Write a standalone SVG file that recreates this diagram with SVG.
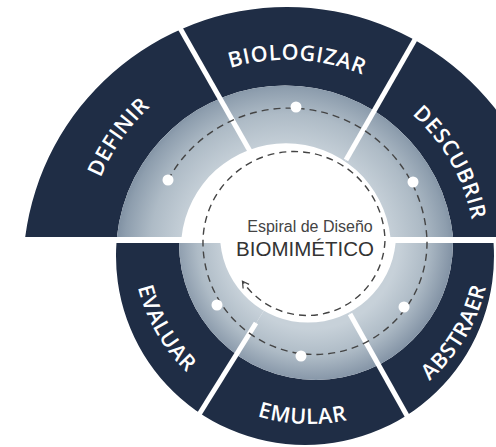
<svg xmlns="http://www.w3.org/2000/svg" width="496" height="447" viewBox="0 0 496 447">
<defs>
<style>
.dark{fill:#1f2d45}
.lbl{font-family:"Open Sans","Liberation Sans",sans-serif;font-weight:600;font-size:21.5px;fill:#ffffff;letter-spacing:0.7px}
.div{stroke:#ffffff;stroke-width:5}
.dash{fill:none;stroke:#444444;stroke-width:1.4;stroke-dasharray:7 5}
.dot{fill:#ffffff}
.ctr{font-family:"Liberation Sans","Open Sans",sans-serif;text-anchor:middle}
</style>
<radialGradient id="gU" gradientUnits="userSpaceOnUse" cx="286" cy="250" r="170">
<stop offset="0.6" stop-color="#c7d1d9"/>
<stop offset="0.8" stop-color="#aebbc6"/>
<stop offset="0.95" stop-color="#8e9eae"/>
<stop offset="1" stop-color="#7f90a2"/>
</radialGradient>
<radialGradient id="gL" gradientUnits="userSpaceOnUse" cx="312" cy="242" r="140">
<stop offset="0.62" stop-color="#c7d1d9"/>
<stop offset="0.82" stop-color="#aebbc6"/>
<stop offset="1" stop-color="#8494a6"/>
</radialGradient>
<path id="ud" d="M 25.2 237 A 264 264 0 0 1 548.8 237 L 453.1 237 A 169 169 0 0 0 116.9 237 Z"/>
<path id="ul" d="M 116.9 237 A 169 169 0 0 1 453.1 237 L 390.4 237 A 105 105 0 0 0 181.6 237 Z"/>
<path id="ld" d="M 116.45 243 A 189 189 0 1 0 493.55 243 L 453 243 A 137 137 0 1 1 179 243 Z"/>
<path id="ll" d="M 179 243 A 137 137 0 1 0 453 243 L 395.6 243 A 88 88 0 0 1 220.4 243 Z"/>
<clipPath id="cDef"><polygon points="-10,240 -10,-50 135.4,-50 301,240"/></clipPath>
<clipPath id="cBio"><polygon points="135.4,-50 466,-50 300,240 301,240"/></clipPath>
<clipPath id="cDes"><polygon points="466,-50 600,-50 600,240 300,240"/></clipPath>
<clipPath id="cAbs"><polygon points="308,240 600,240 600,500 455.4,500"/></clipPath>
<clipPath id="cEmu"><polygon points="308,240 455.4,500 145.6,500"/></clipPath>
<clipPath id="cEva"><polygon points="308,240 145.6,500 -10,500 -10,240"/></clipPath>
<path id="tBio" d="M 91.27 244.74 A 196 196 0 0 1 482.73 265.26"/>
<path id="tDes" d="M 194.43 91.36 A 188 188 0 0 1 379.57 418.64"/>
<path id="tDef" d="M 171.14 420.47 A 202 202 0 0 1 402.86 89.53"/>
<path id="tEmu" d="M 131.17 237.19 A 179 179 0 0 0 488.83 252.81"/>
<path id="tEva" d="M 221 90.85 A 178 178 0 0 0 399 399.15"/>
<path id="tAbs" d="M 216.78 400.15 A 181 181 0 0 0 403.22 89.85"/>
<marker id="arr" viewBox="0 0 10 10" refX="7" refY="5" markerWidth="9" markerHeight="9" orient="auto" markerUnits="userSpaceOnUse">
<path d="M1,1 L8,5 L1,9" fill="none" stroke="#444444" stroke-width="1.4"/>
</marker>
</defs>
<rect width="496" height="447" fill="#ffffff"/>

<g id="definir">
<g clip-path="url(#cDef)"><use href="#ud" class="dark"/><use href="#ul" fill="url(#gU)"/></g>
<text class="lbl"><textPath href="#tDef" startOffset="50%" text-anchor="middle">DEFINIR</textPath></text>
</g>
<g id="biologizar">
<g clip-path="url(#cBio)"><use href="#ud" class="dark"/><use href="#ul" fill="url(#gU)"/></g>
<text class="lbl"><textPath href="#tBio" startOffset="50%" text-anchor="middle">BIOLOGIZAR</textPath></text>
</g>
<g id="descubrir">
<g clip-path="url(#cDes)"><use href="#ud" class="dark"/><use href="#ul" fill="url(#gU)"/></g>
<text class="lbl"><textPath href="#tDes" startOffset="50%" text-anchor="middle">DESCUBRIR</textPath></text>
</g>
<g id="abstraer">
<g clip-path="url(#cAbs)"><use href="#ld" class="dark"/><use href="#ll" fill="url(#gL)"/></g>
<text class="lbl"><textPath href="#tAbs" startOffset="50%" text-anchor="middle">ABSTRAER</textPath></text>
</g>
<g id="emular">
<g clip-path="url(#cEmu)"><use href="#ld" class="dark"/><use href="#ll" fill="url(#gL)"/></g>
<text class="lbl"><textPath href="#tEmu" startOffset="50%" text-anchor="middle">EMULAR</textPath></text>
</g>
<g id="evaluar">
<g clip-path="url(#cEva)"><use href="#ld" class="dark"/><use href="#ll" fill="url(#gL)"/></g>
<text class="lbl"><textPath href="#tEva" startOffset="50%" text-anchor="middle">EVALUAR</textPath></text>
</g>

<g id="dividers">
<line class="div" x1="172" y1="14" x2="251" y2="153"/>
<line class="div" x1="421" y1="29" x2="346" y2="160"/>
<line class="div" x1="350" y1="314" x2="415" y2="430"/>
<line class="div" x1="256" y1="323" x2="190" y2="429"/>
</g>

<g id="center">
<text class="ctr" x="310" y="232" font-size="16" fill="#444444">Espiral de Diseño</text>
<text class="ctr" x="305" y="256" font-size="20.5" fill="#333333">BIOMIMÉTICO</text>
</g>

<g id="connectors">
<path class="dash" marker-end="url(#arr)" d="M 168 180 A 138 138 0 0 1 427 240 A 112 112 0 0 1 203 245 A 91 91 0 0 1 385 240 A 78 78 0 0 1 243 282"/>
<circle class="dot" cx="168" cy="180" r="5.5"/>
<circle class="dot" cx="296" cy="107" r="5.5"/>
<circle class="dot" cx="413" cy="182" r="5.5"/>
<circle class="dot" cx="404" cy="307" r="5.5"/>
<circle class="dot" cx="301" cy="356" r="5.5"/>
<circle class="dot" cx="217" cy="305" r="5.5"/>
</g>
</svg>
